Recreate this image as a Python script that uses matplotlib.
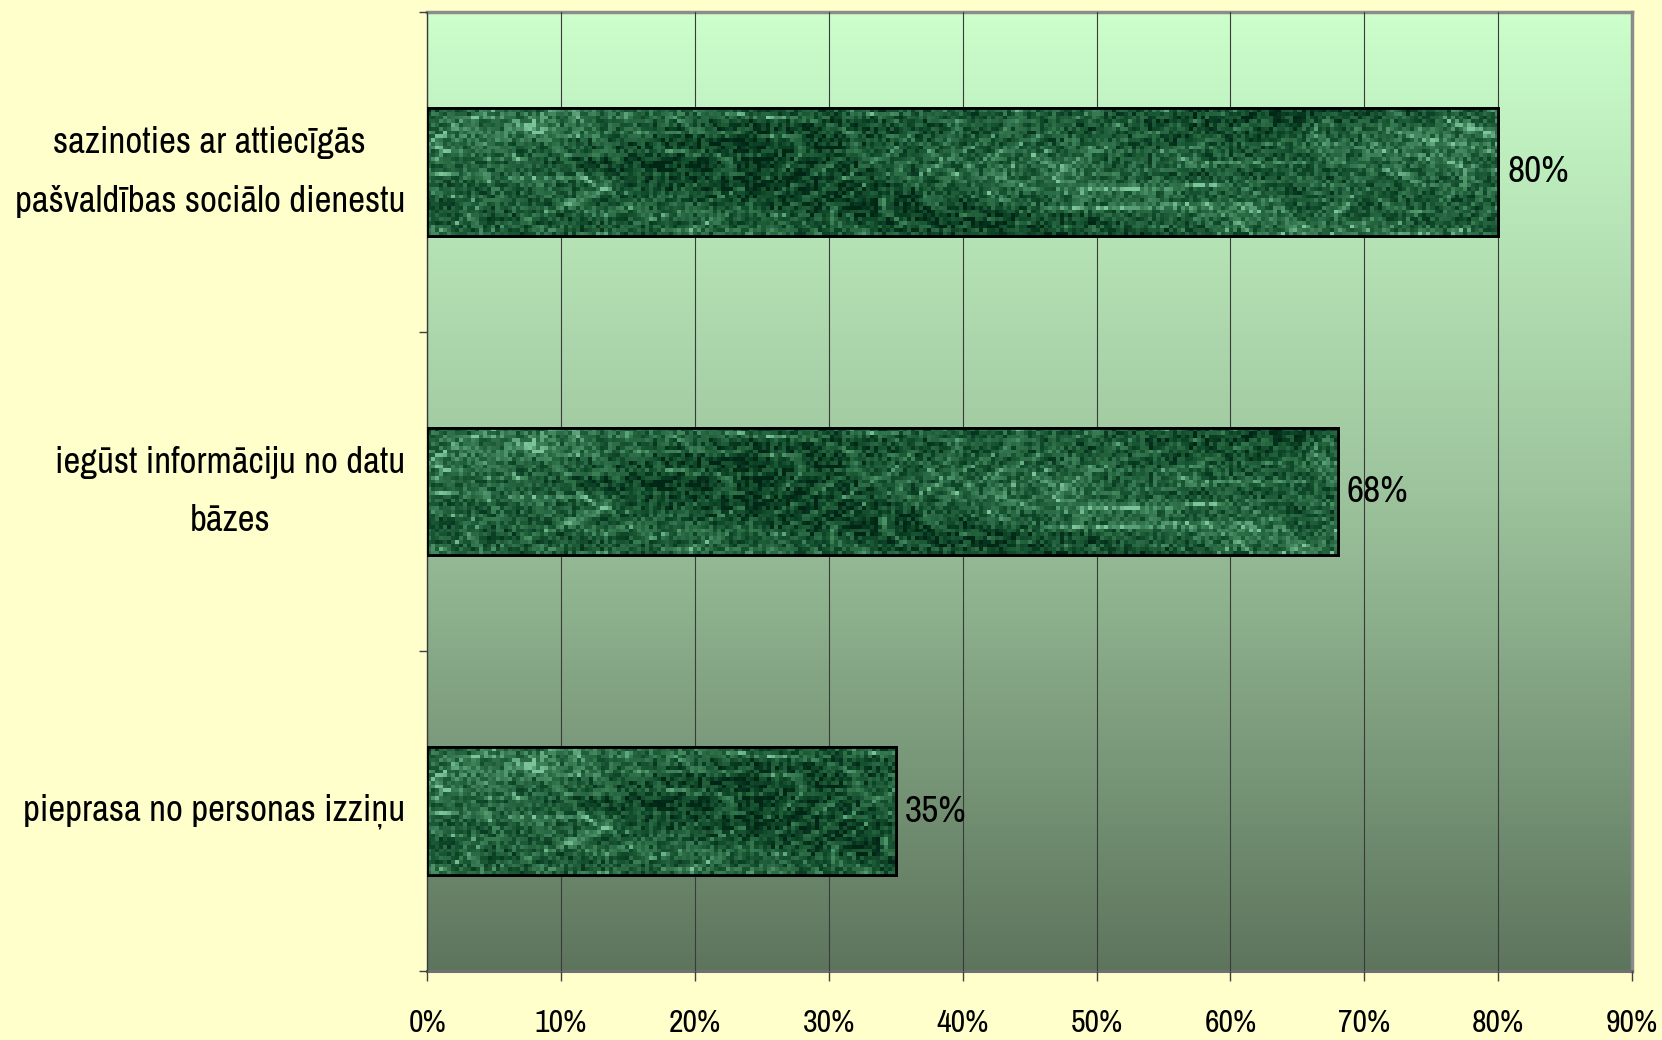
"""Horizontal bar chart: how information about a person is obtained (share of answers)."""

import matplotlib

matplotlib.use("Agg")
import matplotlib.pyplot as plt
import numpy as np
from matplotlib.colors import LinearSegmentedColormap
from matplotlib.ticker import FixedLocator, PercentFormatter

categories = [
    "sazinoties ar attiecīgās\npašvaldības sociālo dienestu",
    "iegūst informāciju no datu\nbāzes",
    "pieprasa no personas izziņu",
]
values = [0.80, 0.68, 0.35]
value_labels = ["80%", "68%", "35%"]
x_ticks = [0.0, 0.1, 0.2, 0.3, 0.4, 0.5, 0.6, 0.7, 0.8, 0.9]

plt.rcParams["font.family"] = ["Archivo Narrow", "Liberation Sans", "DejaVu Sans"]

fig = plt.figure(figsize=(16.62, 10.40), dpi=100, facecolor="#FFFFCC")
ax = fig.add_axes([0.257, 0.0663, 0.725, 0.9222])

# plot area gradient, light green at the top to grey-green at the bottom
grad = LinearSegmentedColormap.from_list(
    "bg", [(0.0, "#CCFFCC"), (0.5, "#9DC49D"), (1.0, "#5D755D")]
)
ax.imshow(np.linspace(0, 1, 256).reshape(-1, 1), cmap=grad, aspect="auto",
          extent=[0, 0.9, -0.5, 2.5], origin="upper", zorder=0)

# dark green "marble" texture for the bars (deterministic hash noise + veins)
tex_cmap = LinearSegmentedColormap.from_list(
    "tex", ["#022616", "#0C4326", "#1C5A36", "#2F7049", "#4A8F66", "#7CC49A"]
)


def bar_texture(width_frac):
    nx = max(int(300 * width_frac / 0.9), 4)
    xx, yy = np.meshgrid(np.arange(nx), np.arange(34))
    h = np.sin(xx * 12.9898 + yy * 78.233) * 43758.5453
    noise = h - np.floor(h)
    w1 = (xx * 0.071 + 1.7 * np.sin(yy * 0.17 + xx * 0.031)
          + 0.9 * np.sin(xx * 0.043 + 1.3))
    w2 = (yy * 0.23 - xx * 0.052 + 1.4 * np.sin(xx * 0.061 + yy * 0.09)
          + 0.7 * np.cos(xx * 0.017))
    veins = (np.exp(-np.abs(np.sin(w1 * 2.3)) * 4.0)
             + 0.7 * np.exp(-np.abs(np.sin(w2 * 1.9)) * 5.0))
    blotch = np.sin(xx * 0.037 + np.sin(yy * 0.11) * 2) * np.cos(xx * 0.013 - yy * 0.07)
    tex = 0.8 * noise + 0.5 * veins + 0.3 * blotch
    lo, hi = np.percentile(tex, [2, 99.5])
    return np.clip((tex - lo) / (hi - lo), 0, 1)


ypos = np.arange(len(categories))[::-1]
bar_h = 0.40
bars = ax.barh(ypos, values, height=bar_h, color="#1E5533", edgecolor="black",
               linewidth=2.0, zorder=3)
for rect, y, v in zip(bars, ypos, values):
    im = ax.imshow(bar_texture(v), cmap=tex_cmap, aspect="auto",
                   interpolation="nearest",
                   extent=[0, v, y - bar_h / 2, y + bar_h / 2], zorder=3.5)
    im.set_clip_path(rect)
    ax.add_patch(plt.Rectangle((0, y - bar_h / 2), v, bar_h, fill=False,
                               edgecolor="black", linewidth=2.0, zorder=4))

for y, v, lab in zip(ypos, values, value_labels):
    ax.text(v + 0.007, y, lab, va="center", ha="left", fontsize=27, zorder=5)

ax.set_xlim(0, 0.9)
ax.set_ylim(-0.5, 2.5)

ax.xaxis.set_major_locator(FixedLocator(x_ticks))
ax.xaxis.set_major_formatter(PercentFormatter(1.0, decimals=0))
ax.tick_params(axis="x", direction="out", length=7, width=1, color="#404040",
               labelsize=23, pad=20)
ax.grid(axis="x", color="#3A3A3A", linewidth=0.8, zorder=1)
ax.set_axisbelow(False)
for gl in ax.get_xgridlines():
    gl.set_zorder(1)

ax.set_yticks([-0.5, 0.5, 1.5, 2.5])
ax.set_yticklabels([])
ax.tick_params(axis="y", which="major", direction="out", length=6, width=1,
               color="#404040")
ax.set_yticks(ypos, minor=True)
ax.set_yticklabels(categories, minor=True, fontsize=26.5, multialignment="center",
                   linespacing=1.95)
ax.tick_params(axis="y", which="minor", length=0, pad=16)
for lab in ax.get_yticklabels(minor=True):
    lab.set_va("center")

ax.spines["top"].set_color("#8C8C8C")
ax.spines["top"].set_linewidth(2.5)
ax.spines["right"].set_color("#8C8C8C")
ax.spines["right"].set_linewidth(2.5)
ax.spines["bottom"].set_color("#707070")
ax.spines["bottom"].set_linewidth(2.2)
ax.spines["left"].set_color("#404040")
ax.spines["left"].set_linewidth(1.0)

fig.savefig("out.png", dpi=100, facecolor=fig.get_facecolor())
plt.close(fig)
